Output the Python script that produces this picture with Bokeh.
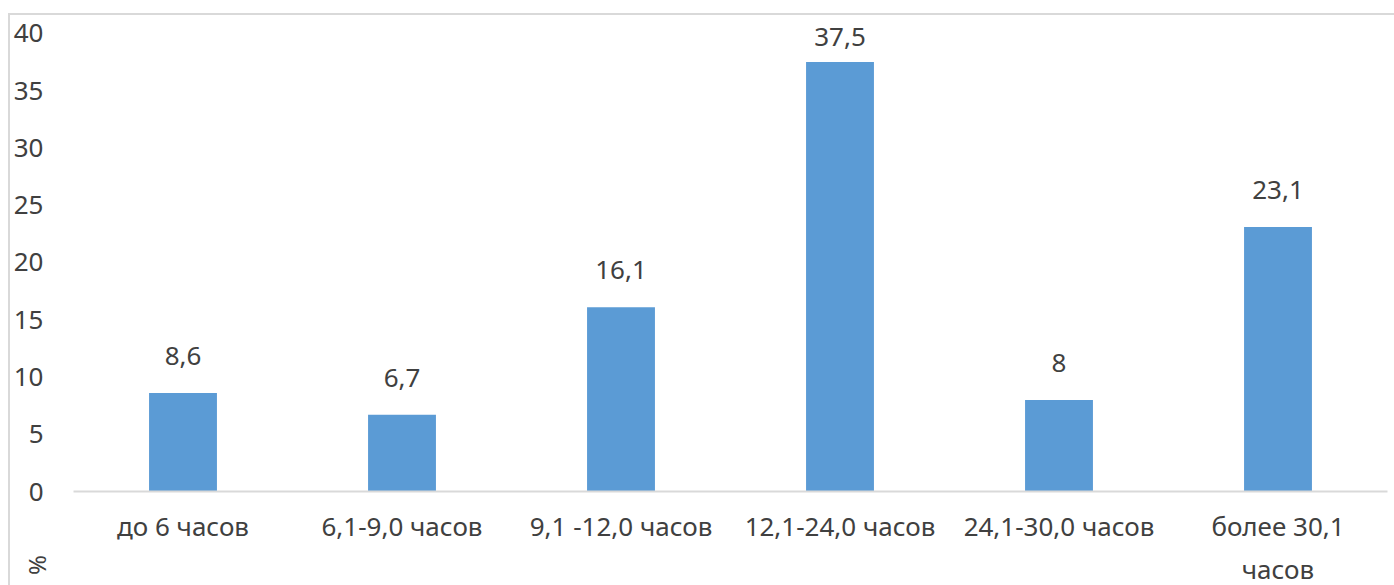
import math
import numpy as np
from bokeh.plotting import figure
from bokeh.layouts import column
from bokeh.models import ColumnDataSource, FactorRange, Range1d, FixedTicker, Div
from bokeh.core.properties import value
from bokeh.embed import file_html
from bokeh.resources import INLINE

categories = ["до 6 часов", "6,1-9,0 часов", "9,1 -12,0 часов", "12,1-24,0 часов",
              "24,1-30,0 часов", "более 30,1\nчасов"]
values = [8.6, 6.7, 16.1, 37.5, 8.0, 23.1]
value_labels = ["8,6", "6,7", "16,1", "37,5", "8", "23,1"]
y_ticks = [0, 5, 10, 15, 20, 25, 30, 35, 40]
y_title = "%"

FONT = "Noto Sans"
TEXT = "#404040"
GRID = "#d9d9d9"

src = ColumnDataSource(dict(
    cat=categories,
    val=values,
    lab=value_labels,
    lab_y=list(np.minimum(values, 36.43)),
))

p = figure(
    width=1390, height=574,
    x_range=FactorRange(factors=categories, range_padding=0),
    y_range=Range1d(0, 41.13),
    output_backend="svg", toolbar_location=None,
    min_border_left=63, min_border_right=13, min_border_top=5, min_border_bottom=90,
    margin=(13, 0, 0, 8),
    background_fill_color="white", border_fill_color="white",
)
p.styles = {"border-top": "2px solid #d9d9d9", "border-left": "2px solid #d9d9d9",
            "border-right": "none", "outline": "none", "box-shadow": "none"}
p.outline_line_color = None
p.grid.visible = False

p.vbar(x="cat", top="val", width=0.31, source=src, fill_color="#5B9BD5", line_color=None)

p.text(x="cat", y="lab_y", text="lab", source=src, text_align="center",
       text_baseline="alphabetic", y_offset=-37, text_color=TEXT,
       text_font=value(FONT), text_font_size="26px")

ya = p.yaxis[0]
ya.ticker = FixedTicker(ticks=y_ticks)
ya.axis_line_color = None
ya.major_tick_line_color = None
ya.minor_tick_line_color = None
ya.major_tick_out = 0
ya.major_tick_in = 0
ya.major_label_standoff = 30
ya.major_label_text_font = FONT
ya.major_label_text_font_size = "26px"
ya.major_label_text_color = TEXT

xa = p.xaxis[0]
xa.axis_line_color = GRID
xa.axis_line_width = 2
xa.major_tick_line_color = None
xa.minor_tick_line_color = None
xa.major_tick_out = 0
xa.major_tick_in = 0
xa.major_label_standoff = 16
xa.major_label_text_font = FONT
xa.major_label_text_font_size = "26px"
xa.major_label_text_color = TEXT

pct = Div(text=y_title, width=30, height=30, margin=0,
          styles={"position": "absolute", "left": "22px", "top": "550px",
                  "transform": "rotate(-90deg)", "font-family": FONT,
                  "font-size": "24px", "color": TEXT, "line-height": "30px",
                  "text-align": "center", "z-index": "10"})

layout = column(p, pct, margin=0, spacing=0)

html = file_html(layout, INLINE)
html = html.replace("<head>", "<head><style>html,body{overflow:hidden;margin:0;padding:0}</style>", 1)
open("out.html", "w").write(html)
